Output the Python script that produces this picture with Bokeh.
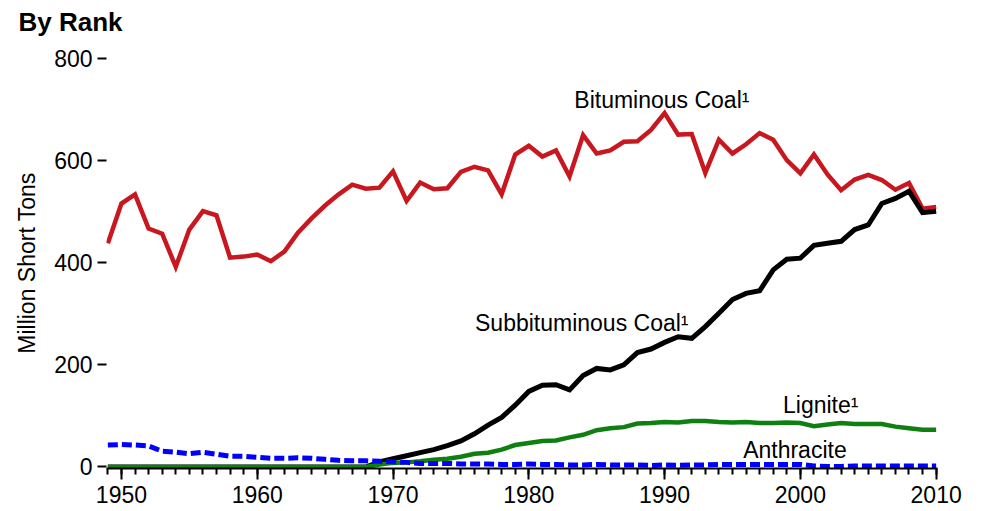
from bokeh.plotting import figure
from bokeh.models import SingleIntervalTicker, FixedTicker, ColumnDataSource, Title
from bokeh.core.properties import value
from bokeh.embed import file_html
from bokeh.resources import INLINE

years = list(range(1949, 2011))

bituminous = [438, 516, 534, 467, 457, 392, 465, 501, 493, 410,
              412, 416, 403, 422, 459, 487, 512, 534, 553, 545,
              547, 579, 521, 557, 544, 546, 578, 588, 581, 534,
              612, 629, 608, 620, 569, 650, 614, 620, 637, 638,
              660, 693, 651, 652, 576, 641, 614, 632, 654, 641,
              601, 575, 612, 573, 542, 563, 572, 562, 543, 556,
              506, 509]

subbituminous = [0, 0, 0, 0, 0, 0, 0, 0, 0, 0,
                 0, 0, 0, 0, 0, 0, 0, 0, 0, 0,
                 10, 16, 22, 28, 34, 42, 51, 65, 82, 97,
                 121, 148, 160, 161, 151, 179, 193, 190, 200, 224,
                 231, 244, 255, 252, 275, 301, 328, 340, 345, 386,
                 407, 409, 434, 438, 442, 465, 474, 516, 526, 540,
                 498, 501]

lignite = [0, 0, 0, 0, 0, 0, 0, 0, 0, 0,
           0, 0, 0, 0, 0, 0, 0, 0, 0, 0,
           5, 8, 9, 11, 14, 16, 20, 26, 28, 34,
           43, 47, 51, 52, 58, 63, 72, 76, 78, 85,
           86, 88, 87, 90, 90, 88, 87, 88, 86, 86,
           87, 86, 80, 83, 86, 84, 84, 84, 79, 76,
           73, 73]

anthracite = [43, 44, 43, 41, 31, 29, 26, 29, 25, 21,
              21, 19, 17, 17, 18, 17, 15, 13, 12, 12,
              11, 10, 9, 7, 7, 7, 6, 6, 6, 5,
              5, 6, 5, 5, 4, 4, 5, 4, 4, 4,
              3, 4, 3, 4, 4, 5, 5, 5, 5, 5,
              5, 5, 2, 1, 1, 2, 2, 2, 2, 2,
              2, 2]

y_ticks = [0, 200, 400, 600, 800]

label_text = ["Bituminous Coal\u00b9", "Subbituminous Coal\u00b9", "Lignite\u00b9", "Anthracite"]
label_x = [1989.8, 1983.9, 2001.5, 1999.6]
label_y = [718, 282, 121, 33]

title_text = "By Rank"

FONT = "Liberation Sans"

src = ColumnDataSource(dict(year=years, bit=bituminous, sub=subbituminous,
                            lig=lignite, ant=anthracite))

p = figure(width=980, height=508, output_backend="svg", toolbar_location=None,
           x_range=(1948.9, 2010.1), y_range=(-3, 802), title=None,
           min_border_left=106, min_border_right=43, min_border_top=57,
           min_border_bottom=40)

# spacer panel next to the frame, pushes the real title to the top edge
spacer = Title(text=" ", text_font_size="1px", standoff=11, align="left")
p.add_layout(spacer, "above")
main_title = Title(text=title_text, align="left", vertical_align="top", standoff=10,
                   offset=-88, text_font=FONT, text_font_size="26px",
                   text_font_style="bold", text_color="black")
p.add_layout(main_title, "above")

p.line("year", "bit", source=src, line_color="#C8171E", line_width=4.5, line_join="miter")
p.line("year", "sub", source=src, line_color="black", line_width=5, line_join="miter")
p.line("year", "lig", source=src, line_color="#0F7F12", line_width=4.5, line_join="miter")
p.line("year", "ant", source=src, line_color="#0000FF", line_width=5,
       line_dash="10 4", line_cap="butt")

p.text(x=label_x, y=label_y, text=label_text, text_align="center",
       text_baseline="middle", text_font=value(FONT), text_font_size=value("23px"),
       text_color="black")

p.xgrid.visible = False
p.ygrid.visible = False
p.outline_line_color = None
p.background_fill_color = "white"
p.border_fill_color = "white"

xa = p.xaxis[0]
xa.ticker = SingleIntervalTicker(interval=10, num_minor_ticks=10)
xa.axis_line_width = 2
xa.axis_line_color = "black"
xa.major_tick_line_width = 2
xa.minor_tick_line_width = 2
xa.major_tick_out = 11
xa.major_tick_in = 0
xa.minor_tick_out = 6
xa.minor_tick_in = 0
xa.major_label_text_font = FONT
xa.major_label_text_font_size = "23px"
xa.major_label_text_color = "black"
xa.major_label_standoff = 6

ya = p.yaxis[0]
ya.ticker = FixedTicker(ticks=y_ticks)
ya.axis_line_color = None
ya.major_tick_line_width = 2
ya.major_tick_out = 9
ya.major_tick_in = 0
ya.minor_tick_line_color = None
ya.major_label_text_font = FONT
ya.major_label_text_font_size = "23px"
ya.major_label_text_color = "black"
ya.major_label_standoff = 5
ya.axis_label = "Million Short Tons"
ya.axis_label_text_font = FONT
ya.axis_label_text_font_size = "23px"
ya.axis_label_text_font_style = "normal"
ya.axis_label_text_color = "black"
ya.axis_label_standoff = 11

open("out.html", "w").write(file_html(p, INLINE))
